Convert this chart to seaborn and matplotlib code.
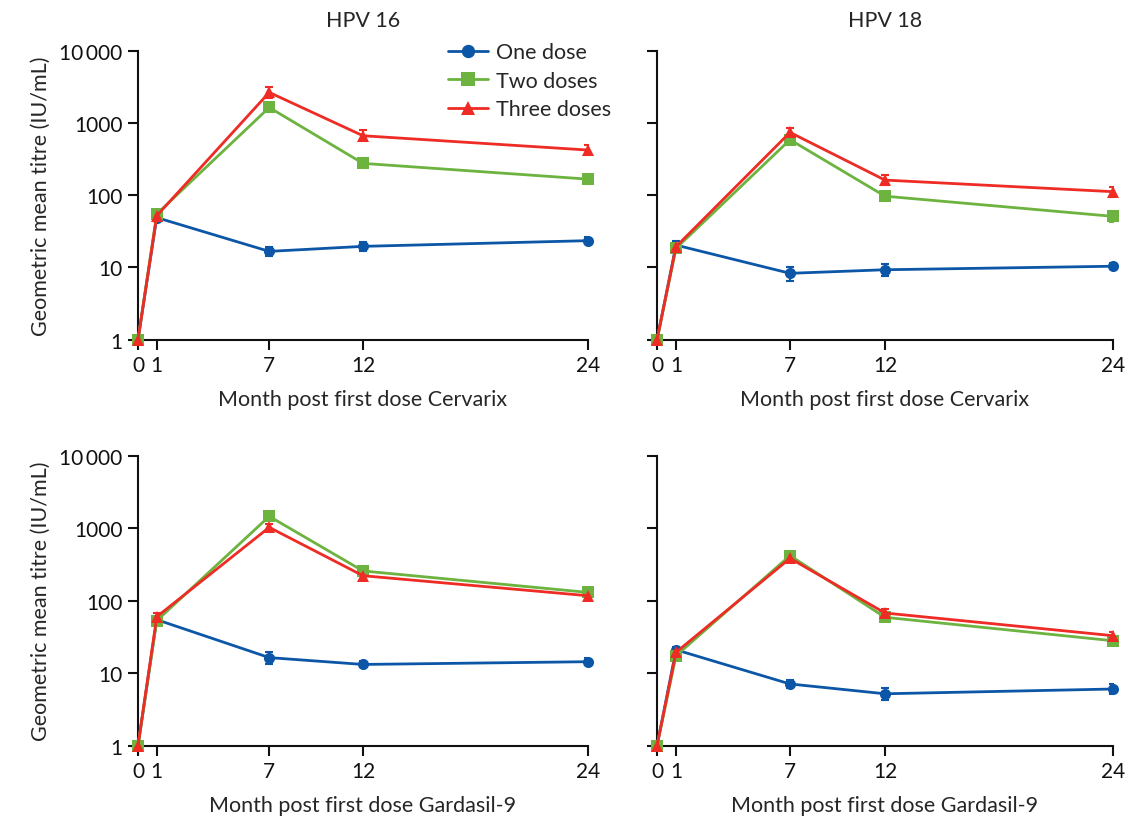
import numpy as np
import pandas as pd
import matplotlib
matplotlib.use('Agg')
import matplotlib.pyplot as plt
import seaborn as sns

# months after first dose
months = [0, 1, 7, 12, 24]
groups = ['One dose', 'Two doses', 'Three doses']

# HPV 16, Cervarix
c16_one = [1, 49, 16.7, 19.6, 23.5]
c16_one_lo = [1, 44, 14.5, 17, 21.5]
c16_one_hi = [1, 55, 19.5, 22.5, 26]
c16_two = [1, 55, 1640, 276, 167]
c16_two_lo = [1, 49, 1450, 240, 145]
c16_two_hi = [1, 62, 1850, 315, 192]
c16_three = [1, 52, 2650, 666, 422]
c16_three_lo = [1, 46, 2250, 560, 365]
c16_three_hi = [1, 60, 3150, 790, 490]

# HPV 18, Cervarix
c18_one = [1, 20.4, 8.3, 9.3, 10.4]
c18_one_lo = [1, 18, 6.5, 7.6, 9.5]
c18_one_hi = [1, 23, 10, 11, 11.4]
c18_two = [1, 18.4, 587, 97, 51]
c18_two_lo = [1, 16.5, 520, 86, 43]
c18_two_hi = [1, 20.5, 660, 110, 60]
c18_three = [1, 19.4, 741, 162, 112]
c18_three_lo = [1, 17, 640, 138, 95]
c18_three_hi = [1, 22, 860, 190, 132]

# HPV 16, Gardasil-9
g16_one = [1, 54.7, 16.4, 13.2, 14.4]
g16_one_lo = [1, 50, 13.5, 12, 12.8]
g16_one_hi = [1, 60, 19.5, 14.6, 16.2]
g16_two = [1, 53, 1456, 257, 130]
g16_two_lo = [1, 46, 1300, 228, 115]
g16_two_hi = [1, 61, 1630, 290, 146]
g16_three = [1, 60, 1026, 221, 117]
g16_three_lo = [1, 53, 920, 195, 104]
g16_three_hi = [1, 67, 1150, 250, 132]

# HPV 18, Gardasil-9
g18_one = [1, 21, 7.1, 5.2, 6.05]
g18_one_lo = [1, 19, 6.2, 4.3, 5.2]
g18_one_hi = [1, 23, 8.1, 6.3, 7]
g18_two = [1, 17.4, 418, 59, 28]
g18_two_lo = [1, 15.5, 375, 52, 25]
g18_two_hi = [1, 19.5, 465, 67, 31.5]
g18_three = [1, 19.4, 384, 67.6, 32.9]
g18_three_lo = [1, 17, 345, 59, 29]
g18_three_hi = [1, 22, 430, 77, 37]

y_ticks = [1, 10, 100, 1000, 10000]
y_ticklabels = ['1', '10', '100', '1000', '10\u2009000']

sns.set_theme(style='ticks')
plt.rcParams['font.family'] = ['Lato', 'DejaVu Sans']

colors = {'One dose': '#0b56a6', 'Two doses': '#6cb33f', 'Three doses': '#ee2b24'}
markers = {'One dose': 'o', 'Two doses': 's', 'Three doses': '^'}

panels = [
    ('HPV 16', 'Month post first dose Cervarix',
     [(c16_one, c16_one_lo, c16_one_hi), (c16_two, c16_two_lo, c16_two_hi), (c16_three, c16_three_lo, c16_three_hi)]),
    ('HPV 18', 'Month post first dose Cervarix',
     [(c18_one, c18_one_lo, c18_one_hi), (c18_two, c18_two_lo, c18_two_hi), (c18_three, c18_three_lo, c18_three_hi)]),
    (None, 'Month post first dose Gardasil-9',
     [(g16_one, g16_one_lo, g16_one_hi), (g16_two, g16_two_lo, g16_two_hi), (g16_three, g16_three_lo, g16_three_hi)]),
    (None, 'Month post first dose Gardasil-9',
     [(g18_one, g18_one_lo, g18_one_hi), (g18_two, g18_two_lo, g18_two_hi), (g18_three, g18_three_lo, g18_three_hi)]),
]

# axes rectangles (figure fractions)
rects = [
    [0.1219, 0.5845, 0.3975, 0.3524],
    [0.5804, 0.5845, 0.4028, 0.3524],
    [0.1219, 0.0894, 0.3975, 0.3537],
    [0.5804, 0.0894, 0.4028, 0.3537],
]

fig = plt.figure(figsize=(11.32, 8.2), dpi=100, facecolor='white')
fs = 15.5

for i, (title, xlabel, series) in enumerate(panels):
    ax = fig.add_axes(rects[i])
    rows = []
    for g, (vals, lo, hi) in zip(groups, series):
        for m, v in zip(months, vals):
            rows.append({'month': m, 'gmt': v, 'group': g})
    df = pd.DataFrame(rows)

    # error bars first so markers sit on top
    for g, (vals, lo, hi) in zip(groups, series):
        v = np.array(vals[1:])
        yerr = [v - np.array(lo[1:]), np.array(hi[1:]) - v]
        ax.errorbar(months[1:], v, yerr=yerr, fmt='none', ecolor=colors[g],
                    elinewidth=1.5, capsize=3, capthick=1.5, zorder=2)

    sns.lineplot(data=df, x='month', y='gmt', hue='group', style='group',
                 hue_order=groups, style_order=groups, palette=colors,
                 markers=markers, dashes=False, linewidth=2, markersize=8,
                 markeredgewidth=0, ax=ax, legend=(i == 0), zorder=3,
                 clip_on=False)

    ax.set_yscale('log')
    ax.set_ylim(1, 10000)
    ax.set_xlim(0, 24)
    ax.set_yticks(y_ticks)
    ax.set_yticklabels(y_ticklabels if i % 2 == 0 else [])
    ax.yaxis.set_minor_locator(matplotlib.ticker.NullLocator())
    ax.set_xticks(months)
    ax.set_xticklabels([str(m) for m in months])

    for s in ['top', 'right']:
        ax.spines[s].set_visible(False)
    for s in ['left', 'bottom']:
        ax.spines[s].set_linewidth(1.5)
        ax.spines[s].set_color('#111111')
    ax.tick_params(axis='both', direction='out', length=7, width=1.5,
                   labelsize=15, pad=4, colors='#111111')

    ax.set_xlabel(xlabel, fontsize=fs, labelpad=10)
    if i % 2 == 0:
        ax.set_ylabel('Geometric mean titre (IU/mL)', fontsize=fs, labelpad=6)
    else:
        ax.set_ylabel('')
    if title:
        ax.set_title(title, fontsize=fs, pad=18)

    if i == 0:
        leg = ax.legend(loc='upper left', bbox_to_anchor=(0.689, 1.03),
                        frameon=False, fontsize=fs, handlelength=1.85,
                        handletextpad=0.4, labelspacing=0.4,
                        borderpad=0, borderaxespad=0, markerscale=1.2)

fig.savefig('out.png', dpi=100, facecolor='white')
